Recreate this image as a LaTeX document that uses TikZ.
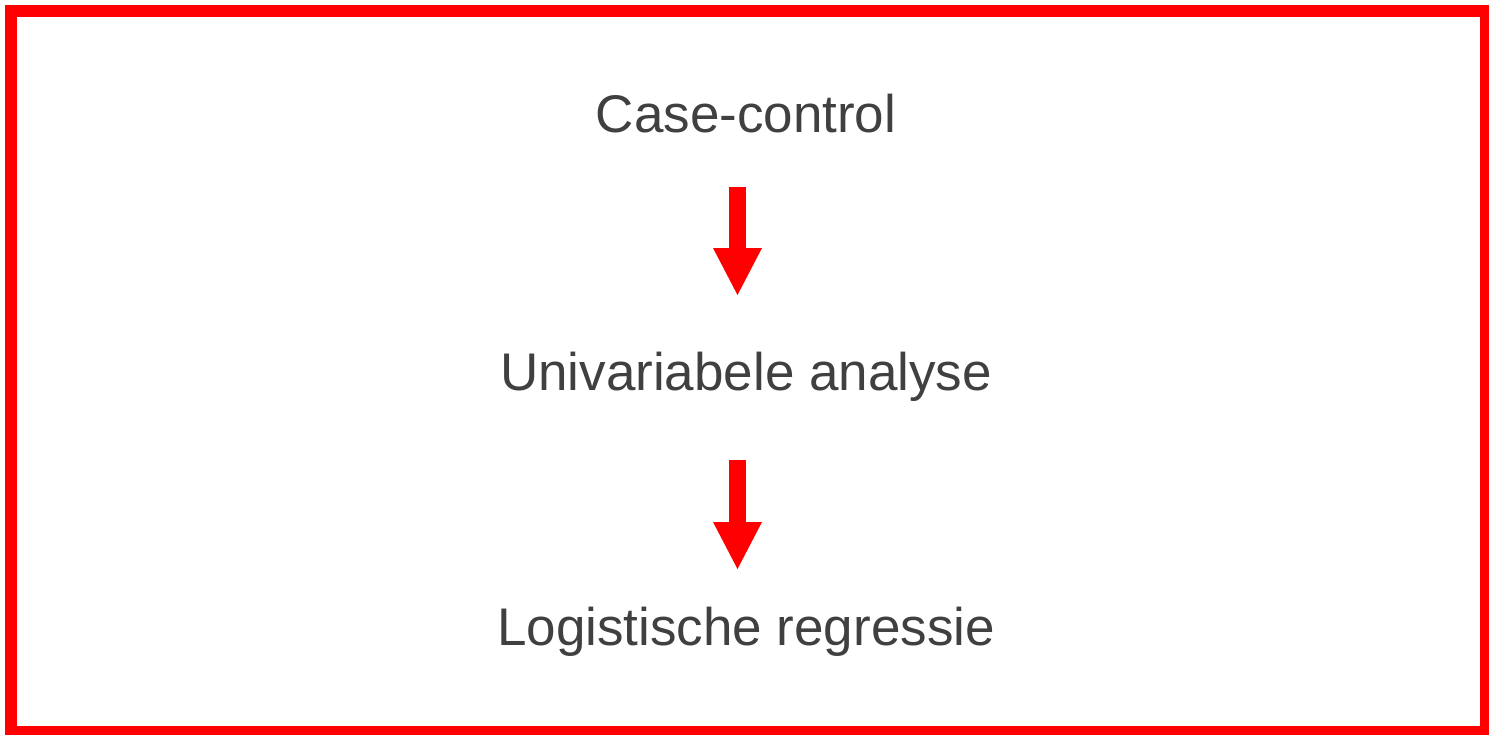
\documentclass[tikz,border=0pt]{standalone}
\usepackage{fontspec}
\setmainfont{Liberation Sans}
\usetikzlibrary{arrows.meta}
\definecolor{txtgray}{HTML}{404040}
\definecolor{brdred}{HTML}{FF0000}
\tikzset{
  label text/.style={anchor=base, inner sep=0pt, text=txtgray, font=\fontsize{53pt}{60pt}\selectfont},
  flow arrow/.style={draw=brdred, line width=17pt, -{Triangle[length=47pt, width=49pt, line width=0pt]}, fill=brdred},
  frame/.style={draw=brdred, line width=12pt}
}
\begin{document}
\begin{tikzpicture}[x=1pt,y=1pt]
\useasboundingbox (0,0) rectangle (1489,-734);
\draw[frame] (11,-10.5) rectangle (1486,-731.5);
\node[label text] (cc) at (746,-132) {Case-control};
\node[label text] (ua) at (746,-390) {Univariabele analyse};
\node[label text] (lr) at (746,-645) {Logistische regressie};
\coordinate (a1s) at (737.5,-187);
\coordinate (a1e) at (737.5,-295);
\coordinate (a2s) at (737.5,-460);
\coordinate (a2e) at (737.5,-569);
\draw[flow arrow] (a1s) -- (a1e);
\draw[flow arrow] (a2s) -- (a2e);
\end{tikzpicture}
\end{document}
